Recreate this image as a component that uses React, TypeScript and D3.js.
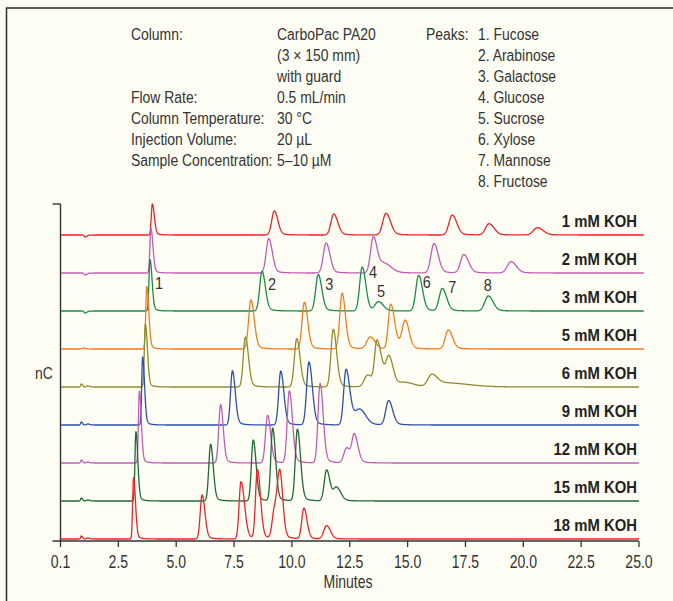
import React, { useEffect, useRef } from 'react'
import * as d3 from 'd3'

const width = 673
const height = 601

// traces, top to bottom
const traceLabels = ['1 mM KOH', '2 mM KOH', '3 mM KOH', '5 mM KOH', '6 mM KOH', '9 mM KOH', '12 mM KOH', '15 mM KOH', '18 mM KOH']
const traceColors = ['#ee2229', '#c25cb6', '#178c45', '#f47b22', '#8e8c2e', '#2f50a8', '#c25cb6', '#1e6a35', '#ee2229']
const traceEnds = [25.24, 25.24, 25.24, 25.24, 25.03, 25.03, 25.03, 25.03, 25.03]

// peak tables: [retention time (min), height (nC), sigma left, sigma right]
const peaks1mM = [
    [1.08, -2, 0.04, 0.08], [3.99, 31, 0.045, 0.085], [9.26, 24, 0.11, 0.15], [11.83, 21, 0.12, 0.17],
    [14.09, 21.7, 0.14, 0.19], [16.95, 20, 0.14, 0.19], [18.54, 11.3, 0.15, 0.21], [20.63, 7.3, 0.17, 0.24],
]
const peaks2mM = [
    [1.08, -2, 0.04, 0.08], [3.93, 44.4, 0.045, 0.085], [9.02, 34.4, 0.11, 0.15], [11.5, 30, 0.12, 0.16],
    [13.54, 35.7, 0.12, 0.16], [14.0, 9, 0.2, 0.3], [16.16, 29.4, 0.13, 0.18], [17.45, 18.4, 0.14, 0.2],
    [19.49, 11.4, 0.16, 0.22],
]
const peaks3mM = [
    [1.08, -2, 0.04, 0.08], [3.89, 51.4, 0.045, 0.085], [8.73, 39.7, 0.1, 0.14], [11.16, 36.4, 0.11, 0.15],
    [13.06, 44, 0.11, 0.15], [13.76, 9, 0.14, 0.2], [15.5, 35.7, 0.12, 0.16], [16.52, 22.4, 0.13, 0.18],
    [18.51, 15, 0.15, 0.2],
]
const peaks5mM = [
    [1.0, 1, 0.05, 0.1], [3.75, 62.3, 0.045, 0.085], [8.25, 49, 0.1, 0.14], [10.56, 46.7, 0.1, 0.14],
    [12.19, 55.7, 0.1, 0.14], [13.41, 12, 0.15, 0.2], [14.29, 44.7, 0.1, 0.17], [14.92, 28, 0.14, 0.16],
    [16.78, 19, 0.13, 0.18],
]
const peaks6mM = [
    [0.92, 3, 0.03, 0.05], [1.2, 1, 0.05, 0.08], [3.69, 63, 0.045, 0.085], [8.01, 50, 0.09, 0.13],
    [10.23, 48.4, 0.1, 0.14], [11.81, 57.7, 0.1, 0.14], [13.3, 12, 0.15, 0.2], [13.7, 45, 0.1, 0.2],
    [14.22, 28.4, 0.13, 0.17], [14.9, 4, 0.3, 0.4], [16.06, 11, 0.16, 0.22], [16.6, 4, 0.4, 1.0],
]
const peaks9mM = [
    [0.92, 3, 0.03, 0.05], [1.2, 1, 0.05, 0.08], [3.57, 68, 0.04, 0.08], [7.45, 54.3, 0.08, 0.12],
    [9.54, 54, 0.09, 0.13], [10.76, 63, 0.1, 0.14], [12.36, 55.3, 0.1, 0.16], [12.95, 15, 0.22, 0.25],
    [14.2, 24.3, 0.12, 0.17],
]
const peaks12mM = [
    [0.92, 3, 0.03, 0.05], [1.2, 1, 0.05, 0.08], [3.43, 71.7, 0.04, 0.08], [6.94, 58.4, 0.08, 0.11],
    [8.97, 47.7, 0.09, 0.13], [9.91, 72, 0.09, 0.13], [11.24, 79.4, 0.09, 0.13], [12.39, 15, 0.12, 0.15],
    [12.72, 27.7, 0.1, 0.15],
]
const peaks15mM = [
    [0.92, 3, 0.03, 0.05], [1.2, 1, 0.05, 0.08], [3.28, 69.3, 0.04, 0.08], [6.51, 56.7, 0.08, 0.11],
    [8.35, 61, 0.08, 0.12], [9.19, 72.7, 0.08, 0.12], [10.26, 71.7, 0.09, 0.13], [11.52, 31, 0.1, 0.14],
    [11.95, 13, 0.13, 0.18],
]
const peaks18mM = [
    [0.92, 3, 0.03, 0.05], [1.2, 1, 0.05, 0.08], [3.18, 61.3, 0.04, 0.08], [6.14, 44, 0.08, 0.12],
    [7.82, 57.3, 0.08, 0.15], [8.53, 69, 0.08, 0.13], [9.27, 28, 0.1, 0.15], [9.51, 60, 0.11, 0.12],
    [10.54, 30.7, 0.09, 0.13], [11.52, 13.3, 0.12, 0.16],
]
const tracePeaks = [peaks1mM, peaks2mM, peaks3mM, peaks5mM, peaks6mM, peaks9mM, peaks12mM, peaks15mM, peaks18mM]
const traceSpacing = 38

// x axis
const xTickValues = [0, 2.5, 5, 7.5, 10, 12.5, 15, 17.5, 20, 22.5, 25]
const xTickLabels = ['0.1', '2.5', '5.0', '7.5', '10.0', '12.5', '15.0', '17.5', '20.0', '22.5', '25.0']

// peak numbers drawn on the 3 mM trace
const peakNumbers = ['1', '2', '3', '4', '5', '6', '7', '8']
const peakLabelTimes = [4.28, 9.16, 11.64, 13.53, 13.87, 15.85, 16.95, 18.49]
const peakLabelLevels = [22, 21, 21, 33.3, 14.3, 22.7, 17.7, 20.3]

// conditions box
const conditionNames = ['Column:', '', '', 'Flow Rate:', 'Column Temperature:', 'Injection Volume:', 'Sample Concentration:']
const conditionValues = ['CarboPac PA20', '(3 × 150 mm)', 'with guard', '0.5 mL/min', '30 °C', '20 µL', '5–10 µM']
const peakNames = ['1. Fucose', '2. Arabinose', '3. Galactose', '4. Glucose', '5. Sucrose', '6. Xylose', '7. Mannose', '8. Fructose']

const font = 'Liberation Sans, Arial, sans-serif'
const ink = '#333'

const peakShape = (t: number, p: number[]) => {
    const [t0, h, sL, sR] = p
    const d = t - t0
    if (d < 0) return h * Math.exp(-0.5 * (d / sL) ** 2)
    const g = Math.exp(-0.5 * (d / sR) ** 2)
    return h * (g + 0.1 * Math.exp(-d / (2.2 * sR)) * (1 - g))
}

const Narrow = ({ x, y, sx, size, children, anchor = 'start', weight = 'normal', fill = ink }: any) => (
    <text transform={`translate(${x},${y}) scale(${sx},1)`} fontSize={size} fontFamily={font}
        fontWeight={weight} textAnchor={anchor} fill={fill}>{children}</text>
)

const App = () => {
    const axisRef = useRef<SVGGElement>(null)

    const xScale = d3.scaleLinear().domain([0, 25]).range([60, 638.5])
    const yScale = d3.scaleLinear().domain([-2, 335]).range([541, 204])

    const line = d3.line<number[]>()
        .x((d) => xScale(d[0]))
        .y((d) => yScale(d[1]))

    const nTraces = traceLabels.length
    const baseOf = (i: number) => (nTraces - 1 - i) * traceSpacing

    useEffect(() => {
        const xAxis = d3.axisBottom(xScale)
            .tickValues(xTickValues)
            .tickFormat((d, i) => xTickLabels[i])
            .tickSize(6)
            .tickSizeOuter(0)
            .tickPadding(8)

        const g = d3.select(axisRef.current)
        g.selectAll('*').remove()
        g.call(xAxis)
        g.select('.domain').remove()
        g.attr('font-size', null).attr('font-family', null)
        g.selectAll('.tick line').attr('stroke', ink).attr('stroke-width', 1.3)
        g.selectAll('.tick text')
            .attr('font-size', 18)
            .attr('font-family', font)
            .attr('fill', ink)
            .attr('transform', 'scale(0.78,1)')
    }, [])

    const x0 = xScale(0) + 0.5

    return (
        <svg width={width} height={height} style={{ position: 'absolute', left: 0, top: 0 }}>
            <rect width={width} height={height} fill="#fffef5" />
            <path d={`M6.5,${height} V8 H${width}`} fill="none" stroke="#2b2b2b" strokeWidth={1.5} />

            {conditionNames.map((c, i) => (
                <Narrow key={'c' + i} x={131} y={39.5 + i * 21} sx={0.87} size={16}>{c}</Narrow>
            ))}
            {conditionValues.map((c, i) => (
                <Narrow key={'v' + i} x={277} y={39.5 + i * 21} sx={0.87} size={16}>{c}</Narrow>
            ))}
            <Narrow x={426} y={39.5} sx={0.87} size={16}>Peaks:</Narrow>
            {peakNames.map((c, i) => (
                <Narrow key={'p' + i} x={478} y={39.5 + i * 21} sx={0.87} size={16}>{c}</Narrow>
            ))}

            {tracePeaks.map((peaks, i) => {
                const base = baseOf(i)
                const pts = d3.range(0.05, traceEnds[i], 0.01).map((t) => [
                    t, base + d3.sum(peaks, (p) => peakShape(t, p)),
                ])
                return (
                    <path key={'t' + i} d={line(pts) || ''} fill="none" stroke={traceColors[i]}
                        strokeWidth={1.3} strokeLinejoin="round" />
                )
            })}

            {traceLabels.map((l, i) => (
                <Narrow key={'l' + i} x={637} y={yScale(baseOf(i)) - 8.5} sx={0.93} size={16}
                    weight="bold" anchor="end" fill="#222">{l}</Narrow>
            ))}

            {peakNumbers.map((n, i) => (
                <Narrow key={'n' + i} x={xScale(peakLabelTimes[i])} y={yScale(baseOf(2) + peakLabelLevels[i])}
                    sx={0.85} size={17} anchor="middle">{n}</Narrow>
            ))}

            <line x1={x0} x2={x0} y1={yScale(335)} y2={yScale(-2)} stroke={ink} strokeWidth={1.4} />
            <line x1={x0 - 8} x2={x0} y1={yScale(335)} y2={yScale(335)} stroke={ink} strokeWidth={1.4} />
            <line x1={x0 - 8} x2={xScale(25)} y1={yScale(-2)} y2={yScale(-2)} stroke={ink} strokeWidth={1.4} />
            <g ref={axisRef} transform={`translate(0,${yScale(-2)})`} />

            <Narrow x={35} y={378.5} sx={0.87} size={16}>nC</Narrow>
            <Narrow x={348} y={588} sx={0.78} size={18} anchor="middle">Minutes</Narrow>
        </svg>
    )
}

export default App
